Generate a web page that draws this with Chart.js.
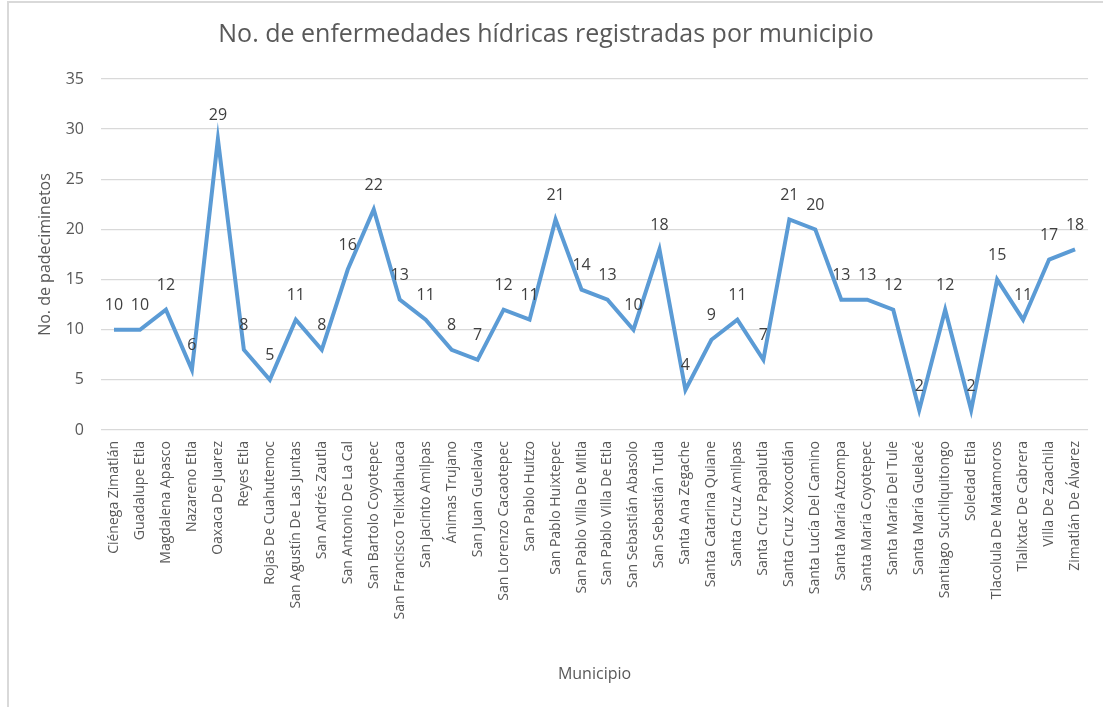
<!DOCTYPE html>
<html lang="es">
<head>
<meta charset="utf-8">
<title>No. de enfermedades hídricas registradas por municipio</title>
<script src="https://cdn.jsdelivr.net/npm/chart.js@4/dist/chart.umd.min.js"></script>
<style>
  html, body { margin: 0; padding: 0; background: #fff; }
  #wrap { position: relative; width: 1103px; height: 707px; }
</style>
</head>
<body>
<div id="wrap"><canvas id="enfermedadesChart" width="1103" height="707"></canvas></div>
<script>
// Datos por municipio
const municipios = [
    'Ciénega Zimatlán', 'Guadalupe Etla', 'Magdalena Apasco', 'Nazareno Etla',
    'Oaxaca De Juarez', 'Reyes Etla', 'Rojas De Cuahutemoc', 'San Agustín De Las Juntas',
    'San Andrés Zautla', 'San Antonio De La Cal', 'San Bartolo Coyotepec',
    'San Francisco Telixtlahuaca', 'San Jacinto Amilpas', 'Ánimas Trujano',
    'San Juan Guelavía', 'San Lorenzo Cacaotepec', 'San Pablo Huitzo',
    'San Pablo Huixtepec', 'San Pablo Villa De Mitla', 'San Pablo Villa De Etla',
    'San Sebastián Abasolo', 'San Sebastián Tutla', 'Santa Ana Zegache',
    'Santa Catarina Quiane', 'Santa Cruz Amilpas', 'Santa Cruz Papalutla',
    'Santa Cruz Xoxocotlán', 'Santa Lucía Del Camino', 'Santa María Atzompa',
    'Santa María Coyotepec', 'Santa María Del Tule', 'Santa María Guelacé',
    'Santiago Suchilquitongo', 'Soledad Etla', 'Tlacolula De Matamoros',
    'Tlalixtac De Cabrera', 'Villa De Zaachila', 'Zimatlán De Álvarez'
];
const padecimientos = [
    10, 10, 12, 6, 29, 8, 5, 11, 8, 16, 22, 13, 11, 8, 7, 12, 11, 21, 14,
    13, 10, 18, 4, 9, 11, 7, 21, 20, 13, 13, 12, 2, 12, 2, 15, 11, 17, 18
];
const yTicks = [0, 5, 10, 15, 20, 25, 30, 35];

const FONT = "'Open Sans', 'Liberation Sans', sans-serif";
const GRAY_TEXT = '#595959';

// Marco gris del área del gráfico
const marco = {
    id: 'marco',
    beforeDraw(chart) {
        const ctx = chart.ctx;
        ctx.save();
        ctx.fillStyle = '#ffffff';
        ctx.fillRect(0, 0, chart.width, chart.height);
        ctx.strokeStyle = '#d9d9d9';
        ctx.lineWidth = 2;
        ctx.beginPath();
        ctx.moveTo(8, chart.height);
        ctx.lineTo(8, 2);
        ctx.lineTo(chart.width, 2);
        ctx.stroke();
        ctx.restore();
    }
};

// Etiquetas de valor sobre cada punto
const etiquetas = {
    id: 'etiquetas',
    afterDatasetsDraw(chart) {
        const ctx = chart.ctx;
        const meta = chart.getDatasetMeta(0);
        const data = chart.data.datasets[0].data;
        ctx.save();
        ctx.font = "16px " + FONT;
        ctx.fillStyle = '#404040';
        ctx.textAlign = 'center';
        ctx.textBaseline = 'middle';
        meta.data.forEach((pt, i) => {
            ctx.fillText(String(data[i]), pt.x, pt.y - 24);
        });
        ctx.restore();
    }
};

const ctx = document.getElementById('enfermedadesChart').getContext('2d');
new Chart(ctx, {
    type: 'line',
    data: {
        labels: municipios,
        datasets: [{
            label: 'No. de padeciminetos',
            data: padecimientos,
            borderColor: '#5B9BD5',
            borderWidth: 4,
            pointRadius: 0,
            fill: false,
            tension: 0,
        }],
    },
    options: {
        responsive: false,
        animation: false,
        layout: { padding: { top: 0, left: 0, right: 11, bottom: 12 } },
        plugins: {
            legend: { display: false },
            tooltip: { enabled: false },
            title: {
                display: true,
                text: 'No. de enfermedades hídricas registradas por municipio',
                color: GRAY_TEXT,
                font: { family: FONT, size: 25, weight: 'normal' },
                padding: { top: 20, bottom: 29 },
            },
        },
        scales: {
            x: {
                offset: true,
                grid: { display: false, drawTicks: false },
                border: { display: false },
                ticks: {
                    autoSkip: false,
                    maxRotation: 90,
                    minRotation: 90,
                    padding: 11,
                    color: GRAY_TEXT,
                    font: { family: FONT, size: 14 },
                },
                title: {
                    display: true,
                    text: 'Municipio',
                    color: GRAY_TEXT,
                    font: { family: FONT, size: 16 },
                    padding: { top: 0, bottom: 11.4 },
                },
                afterFit(scale) { scale.height = 265; },
            },
            y: {
                min: yTicks[0],
                max: yTicks[yTicks.length - 1],
                afterBuildTicks(scale) {
                    scale.ticks = yTicks.map(v => ({ value: v }));
                },
                grid: { color: '#d9d9d9', lineWidth: 1.3, drawTicks: false },
                border: { display: false },
                ticks: {
                    padding: 17,
                    color: GRAY_TEXT,
                    font: { family: FONT, size: 16 },
                },
                title: {
                    display: true,
                    text: 'No. de padeciminetos',
                    color: GRAY_TEXT,
                    font: { family: FONT, size: 16 },
                    padding: { top: 36, bottom: 0 },
                },
                afterFit(scale) { scale.width = 101; },
            },
        },
    },
    plugins: [marco, etiquetas],
});
</script>
</body>
</html>
